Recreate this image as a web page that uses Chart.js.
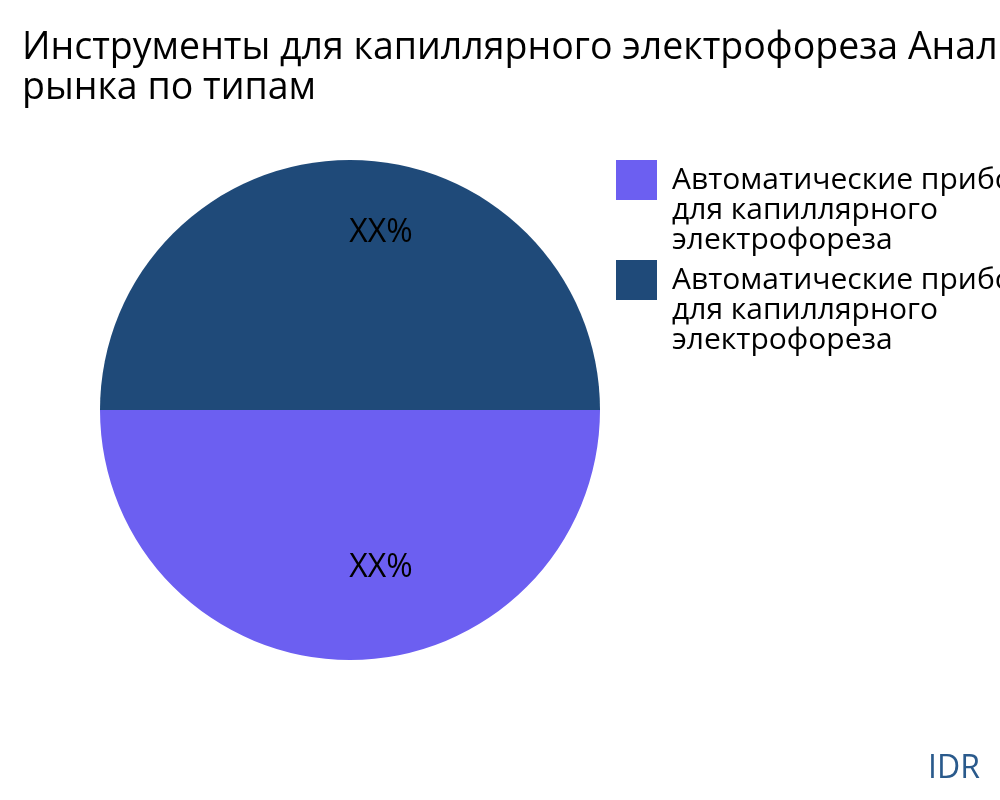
<!DOCTYPE html>
<html>
<head>
<meta charset="utf-8">
<script src="https://cdn.jsdelivr.net/npm/chart.js@4/dist/chart.umd.min.js"></script>
<style>
  html, body { margin: 0; padding: 0; background: #fff; overflow: hidden; }
  #wrap { width: 1000px; height: 800px; }
</style>
</head>
<body>
<div id="wrap"><canvas id="chart" width="1000" height="800"></canvas></div>
<script>
const categories = [
    ['Автоматические приборы', 'для капиллярного', 'электрофореза'],
    ['Автоматические приборы', 'для капиллярного', 'электрофореза']
];
const shares = [50, 50];
const sliceLabels = ['XX%', 'XX%'];
const sliceColors = ['#6c5ff1', '#1f4a79'];

const titleLines = ['Инструменты для капиллярного электрофореза Анализ', 'рынка по типам'];
const sourceText = 'IDR';

// title starts at the left edge, pie is pushed right by the layout padding
const titleLeft = {
    id: 'titleLeft',
    afterLayout(chart) {
        if (chart.titleBlock) {
            chart.titleBlock.left = 22;
            chart.titleBlock.right = 3000;
        }
    }
};

// percent text inside each slice + source mark
const sliceText = {
    id: 'sliceText',
    afterDatasetsDraw(chart) {
        const ctx = chart.ctx;
        const meta = chart.getDatasetMeta(0);
        const fracs = [0.63, 0.71];
        ctx.save();
        ctx.font = '32px "Open Sans"';
        ctx.fillStyle = '#000';
        ctx.textAlign = 'center';
        ctx.textBaseline = 'middle';
        meta.data.forEach((arc, i) => {
            const p = arc.getProps(['x', 'y', 'startAngle', 'endAngle', 'outerRadius'], true);
            const mid = (p.startAngle + p.endAngle) / 2;
            const r = p.outerRadius * fracs[i];
            ctx.fillText(sliceLabels[i], p.x + Math.cos(mid) * r + 31, p.y + Math.sin(mid) * r);
        });
        ctx.fillStyle = '#2a5a8c';
        ctx.textAlign = 'right';
        ctx.fillText(sourceText, chart.width - 20, 769);
        ctx.restore();
    }
};

const chart = document.querySelector('#chart').getContext('2d');

new Chart(chart, {
    type: 'pie',
    data: {
        labels: categories,
        datasets: [
            {
                data: shares,
                backgroundColor: sliceColors,
                borderWidth: 0,
                radius: 250
            }
        ]
    },
    options: {
        responsive: false,
        animation: false,
        events: [],
        rotation: 90,
        layout: {
            padding: { left: 94, right: 0, top: 0, bottom: 130 }
        },
        plugins: {
            title: {
                display: true,
                text: titleLines,
                align: 'start',
                color: '#000',
                font: { family: '"Open Sans"', size: 37.5, weight: 'normal', lineHeight: 1.0667 },
                padding: { top: 28, bottom: 42 }
            },
            legend: {
                position: 'right',
                align: 'start',
                fullSize: false,
                maxWidth: 394,
                labels: {
                    color: '#000',
                    boxWidth: 41,
                    boxHeight: 40,
                    padding: 10,
                    font: { family: '"Open Sans"', size: 30, lineHeight: 1 }
                }
            },
            tooltip: { enabled: false }
        }
    },
    plugins: [titleLeft, sliceText]
});
</script>
</body>
</html>
